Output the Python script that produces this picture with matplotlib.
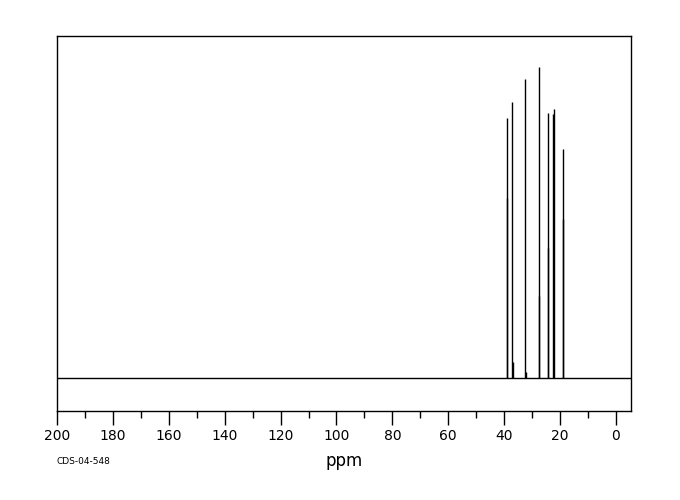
import matplotlib
matplotlib.use("Agg")
import matplotlib.pyplot as plt

# Peak positions (ppm) and relative heights (tallest = 100)
peak_ppm = [39.1, 38.8, 37.1, 36.8, 32.4, 32.2, 27.7, 27.5, 24.4, 24.2, 22.4, 22.2, 19.1, 18.9]
peak_height = [83.6, 57.9, 88.7, 5.1, 96.1, 2.0, 100.0, 26.4, 85.2, 41.8, 85.0, 86.5, 73.6, 51.1]

xticks = [200, 180, 160, 140, 120, 100, 80, 60, 40, 20, 0]
minor_ticks = [190, 170, 150, 130, 110, 90, 70, 50, 30, 10]
x_label = "ppm"
code_label = "CDS-04-548"

fig = plt.figure(figsize=(6.8, 5.0), dpi=100)
ax = fig.add_axes([57 / 680, 89 / 500, 574 / 680, 375 / 500])

ax.axhline(0, color="black", lw=1.0)
ax.vlines(peak_ppm, 0, peak_height, color="black", lw=1.0)

ax.set_xlim(200, -5.4)
ax.set_ylim(-10.6, 110.0)

ax.set_xticks(xticks)
ax.set_xticklabels([str(t) for t in xticks], fontsize=10)
ax.set_xticks(minor_ticks, minor=True)
ax.tick_params(axis="x", which="major", direction="out", length=10, width=1, pad=3)
ax.tick_params(axis="x", which="minor", direction="out", length=5, width=1)
ax.set_yticks([])
for s in ax.spines.values():
    s.set_linewidth(1.0)
    s.set_color("black")

fig.text(344 / 680, 1 - 461 / 500, x_label, ha="center", va="center", fontsize=12)
fig.text(57 / 680, 1 - 462 / 500, code_label, ha="left", va="center", fontsize=6.5)

fig.savefig("out.png", dpi=100)
